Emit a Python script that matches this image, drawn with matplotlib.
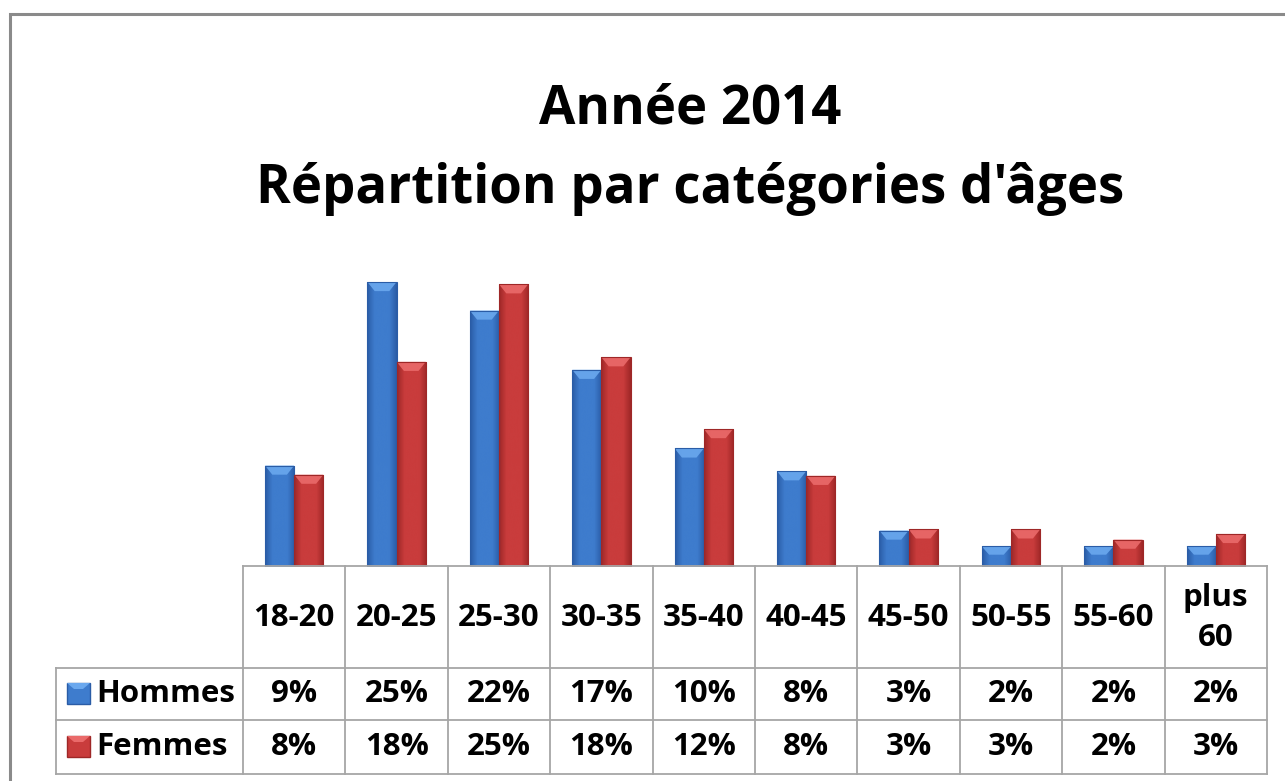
import numpy as np
import matplotlib
matplotlib.use("Agg")
import matplotlib.pyplot as plt
from matplotlib.patches import Rectangle, Polygon

# categories and shares (%)
categories = ["18-20", "20-25", "25-30", "30-35", "35-40", "40-45",
              "45-50", "50-55", "55-60", "plus\n60"]
hommes = [8.9, 25.0, 22.5, 17.3, 10.4, 8.4, 3.2, 1.8, 1.8, 1.8]
femmes = [8.1, 18.0, 24.8, 18.4, 12.1, 8.0, 3.3, 3.3, 2.4, 2.9]
series_names = ["Hommes", "Femmes"]

W, H = 1285, 781
fig = plt.figure(figsize=(W / 100, H / 100), dpi=100)
fig.patch.set_facecolor("white")
plt.rcParams['font.family'] = ['Open Sans', 'DejaVu Sans']

def fx(px):
    return px / W

def fy(py):
    return 1 - py / H

# outer frame of the chart object
fig.add_artist(Rectangle((fx(10), fy(790)), fx(1300), fy(14) - fy(790),
                         transform=fig.transFigure, fill=False,
                         edgecolor="#8a8a8a", linewidth=2.2))

fig.text(fx(690), fy(109), "Année 2014", ha="center", va="center",
         fontsize=38, fontweight="bold", color="black")
fig.text(fx(690), fy(189), "Répartition par catégories d'âges", ha="center",
         va="center", fontsize=38, fontweight="bold", color="black")

# bar area
left, right, base, top = 243, 1267, 567, 260
ax = fig.add_axes([fx(left), fy(base), fx(right - left), fy(top) - fy(base)])
ax.set_xlim(-0.5, len(categories) - 0.5)
ax.set_ylim(0, (base - top) / 11.4)
ax.axis("off")

colors = {
    "Hommes": ("#2a5ca6", "#3e7ccd", "#6aa8ee"),
    "Femmes": ("#9e2727", "#c93c3c", "#ea6a6a"),
}

x = np.arange(len(categories))
bw = 0.285
for vals, name, off in [(hommes, "Hommes", -bw / 2), (femmes, "Femmes", bw / 2)]:
    dark, mid, light = colors[name]
    bars = ax.bar(x + off, vals, bw, color=mid, edgecolor="none", zorder=2)
    cmap = matplotlib.colors.LinearSegmentedColormap.from_list(
        name, [dark, mid, mid, mid, dark])
    grad = np.linspace(0, 1, 64).reshape(1, -1)
    for b in bars:
        x0, w, h = b.get_x(), b.get_width(), b.get_height()
        im = ax.imshow(grad, cmap=cmap, aspect="auto", zorder=3,
                       extent=(x0, x0 + w, 0, h), interpolation="bicubic")
        im.set_clip_path(b)
        # top bevel
        bev = min(0.8, h * 0.4)
        ax.add_patch(Polygon([(x0, h), (x0 + w, h), (x0 + w * 0.75, h - bev),
                              (x0 + w * 0.25, h - bev)], closed=True,
                             facecolor=light, edgecolor="none", alpha=0.9, zorder=4))
        ax.add_patch(Rectangle((x0, 0), w, h, fill=False, edgecolor=dark,
                               linewidth=0.8, zorder=5))
ax.set_xlim(-0.5, len(categories) - 0.5)

# data table below the bars
tab = fig.add_axes([fx(0), fy(781), 1, 1])
tab.set_xlim(0, W)
tab.set_ylim(H, 0)
tab.axis("off")
lc = "#a6a6a6"
lw = 1.3
edges = np.linspace(left, right, len(categories) + 1)
rows = [566, 668, 720, 774]
leg_left = 56
# horizontal lines
tab.plot([left, right], [rows[0]] * 2, color=lc, lw=lw)
for r in rows[1:]:
    tab.plot([leg_left, right], [r, r], color=lc, lw=lw)
# vertical lines
for e in edges:
    tab.plot([e, e], [rows[0], rows[-1]], color=lc, lw=lw)
tab.plot([leg_left, leg_left], [rows[1], rows[-1]], color=lc, lw=lw)

fs = 22.5
for i, c in enumerate(categories):
    cx = (edges[i] + edges[i + 1]) / 2
    tab.text(cx, (rows[0] + rows[1]) / 2 + 1, c, ha="center", va="center",
             fontsize=fs, fontweight="bold", linespacing=1.4)
    tab.text(cx, (rows[1] + rows[2]) / 2, f"{round(hommes[i])}%", ha="center",
             va="center", fontsize=fs, fontweight="bold")
    tab.text(cx, (rows[2] + rows[3]) / 2, f"{round(femmes[i])}%", ha="center",
             va="center", fontsize=fs, fontweight="bold")

for j, name in enumerate(series_names):
    cy = (rows[1 + j] + rows[2 + j]) / 2
    dark, mid, light = colors[name]
    tab.add_patch(Rectangle((67, cy - 11), 23, 21, facecolor=mid,
                            edgecolor=dark, lw=1))
    tab.add_patch(Polygon([(67, cy - 11), (90, cy - 11), (83, cy - 5),
                           (74, cy - 5)], facecolor=light, edgecolor="none"))
    tab.text(96, cy, name, ha="left", va="center", fontsize=fs,
             fontweight="bold")

fig.savefig("out.png", dpi=100, facecolor="white")
